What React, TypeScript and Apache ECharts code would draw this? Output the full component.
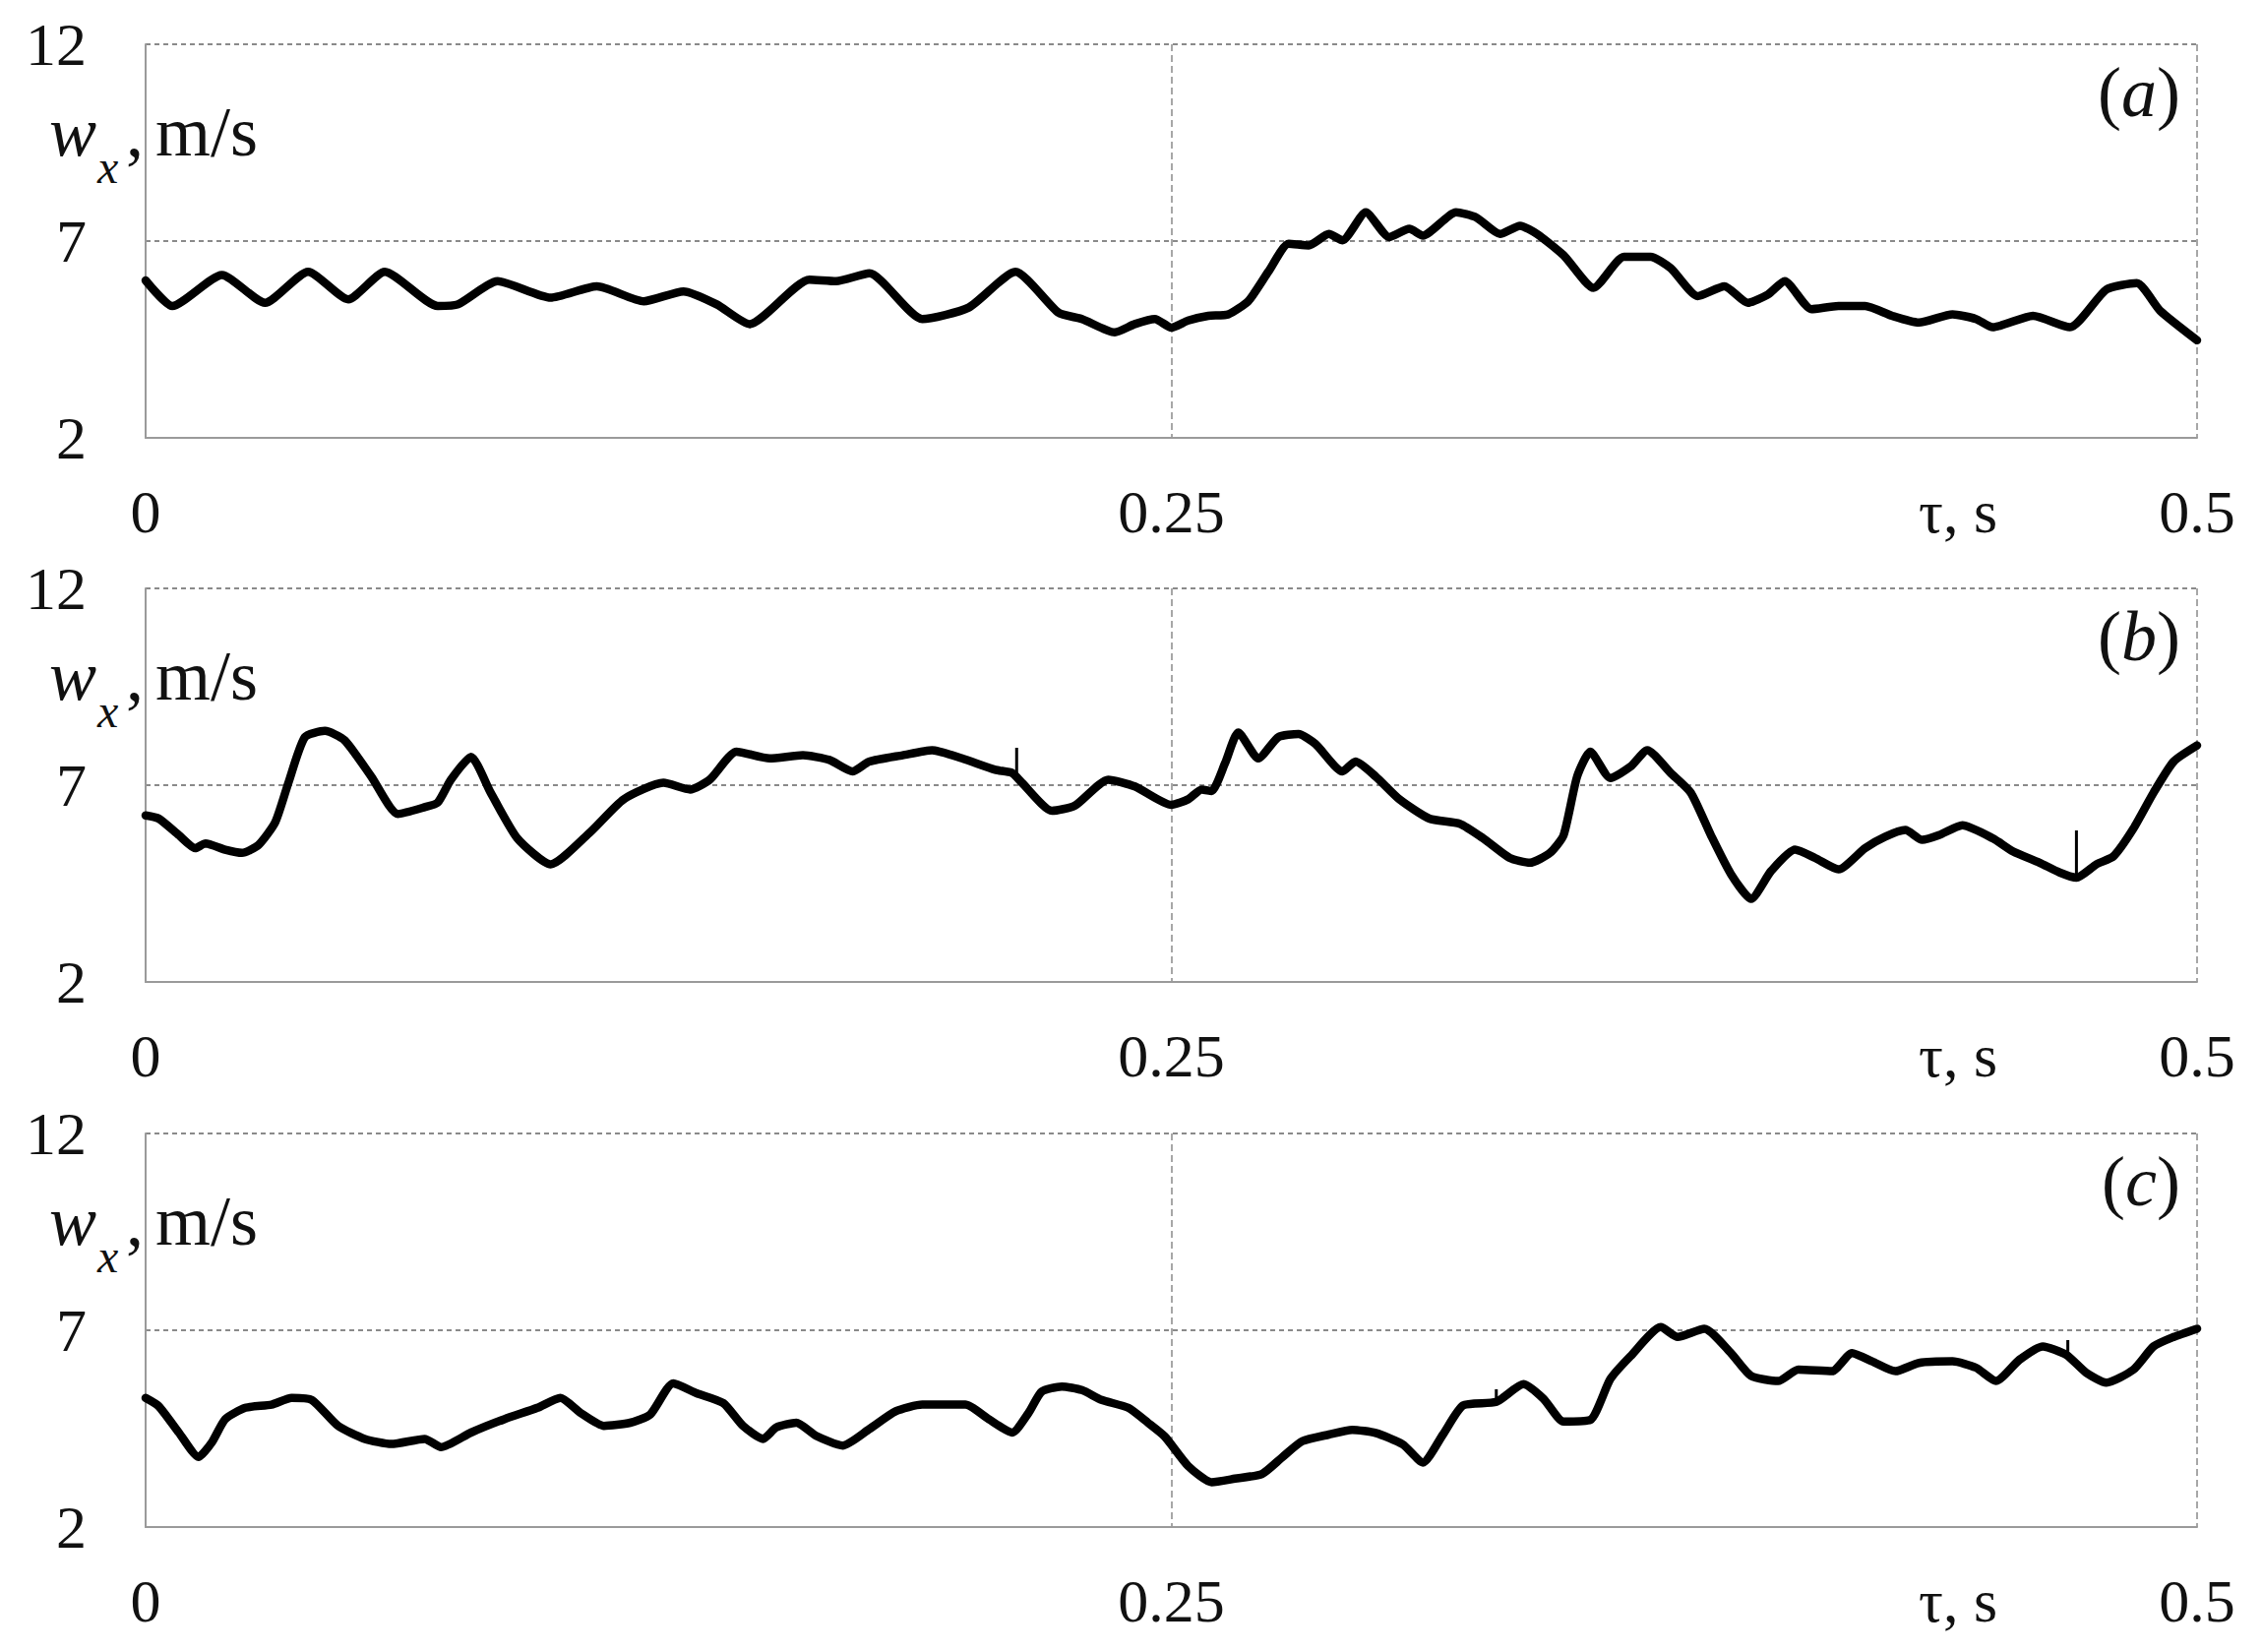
import React, { useEffect, useRef } from "react";
import * as echarts from "echarts";

// ---- data (time in s, velocity in m/s) ----
const T_A = [0, 0.0065, 0.0186, 0.0291, 0.0396, 0.0494, 0.0583, 0.0712, 0.0761, 0.0858, 0.0987, 0.11, 0.1214, 0.1311, 0.1392, 0.1472, 0.1618, 0.1683, 0.1764, 0.1893, 0.2006, 0.212, 0.2225, 0.2282, 0.2362, 0.2411, 0.246, 0.25, 0.2541, 0.259, 0.2639, 0.2688, 0.2737, 0.2786, 0.2835, 0.2884, 0.2917, 0.2974, 0.3031, 0.308, 0.3113, 0.3194, 0.3243, 0.3301, 0.335, 0.3391, 0.3456, 0.3529, 0.3603, 0.3668, 0.3717, 0.3783, 0.3848, 0.3905, 0.3954, 0.3995, 0.406, 0.4126, 0.4191, 0.4257, 0.4322, 0.4404, 0.4461, 0.4502, 0.46, 0.469, 0.4779, 0.4853, 0.491, 0.5];
const W_A = [6.0, 5.35, 6.14, 5.43, 6.22, 5.52, 6.22, 5.35, 5.39, 5.98, 5.56, 5.85, 5.47, 5.72, 5.39, 4.89, 6.02, 5.98, 6.18, 5.02, 5.31, 6.22, 5.18, 5.02, 4.68, 4.89, 5.02, 4.8, 4.98, 5.1, 5.14, 5.48, 6.23, 6.93, 6.89, 7.18, 7.02, 7.73, 7.1, 7.31, 7.14, 7.73, 7.6, 7.18, 7.39, 7.18, 6.64, 5.81, 6.6, 6.6, 6.31, 5.6, 5.85, 5.43, 5.64, 5.98, 5.27, 5.35, 5.35, 5.1, 4.93, 5.14, 5.02, 4.81, 5.1, 4.81, 5.77, 5.93, 5.23, 4.48];

const T_B = [0, 0.0032, 0.0081, 0.0121, 0.0146, 0.0194, 0.0235, 0.0275, 0.0316, 0.0348, 0.0388, 0.0437, 0.0485, 0.055, 0.0615, 0.068, 0.0712, 0.0744, 0.0793, 0.0841, 0.0906, 0.0987, 0.1084, 0.1165, 0.1262, 0.1327, 0.1375, 0.144, 0.1521, 0.1602, 0.1667, 0.1723, 0.1764, 0.1845, 0.1917, 0.199, 0.2071, 0.2112, 0.2136, 0.2209, 0.2265, 0.2346, 0.2411, 0.25, 0.2541, 0.2574, 0.2598, 0.2631, 0.2663, 0.2712, 0.2761, 0.281, 0.2851, 0.2917, 0.2949, 0.2998, 0.3056, 0.3129, 0.3203, 0.326, 0.3325, 0.3374, 0.3423, 0.3456, 0.3489, 0.3521, 0.357, 0.3619, 0.366, 0.3717, 0.3766, 0.3815, 0.3864, 0.3913, 0.3962, 0.402, 0.4069, 0.4126, 0.4191, 0.424, 0.4289, 0.433, 0.4371, 0.4428, 0.4502, 0.4551, 0.4616, 0.4665, 0.4706, 0.4755, 0.4796, 0.4845, 0.4894, 0.4943, 0.5];
const W_B = [6.23, 6.15, 5.73, 5.4, 5.52, 5.36, 5.28, 5.48, 6.06, 7.06, 8.22, 8.38, 8.14, 7.22, 6.27, 6.44, 6.56, 7.14, 7.72, 6.81, 5.65, 4.99, 5.81, 6.64, 7.06, 6.89, 7.14, 7.85, 7.68, 7.76, 7.64, 7.35, 7.6, 7.76, 7.89, 7.68, 7.39, 7.31, 7.06, 6.35, 6.48, 7.14, 6.97, 6.5, 6.64, 6.89, 6.85, 7.56, 8.34, 7.68, 8.22, 8.3, 8.05, 7.35, 7.6, 7.22, 6.64, 6.15, 6.02, 5.65, 5.15, 5.03, 5.28, 5.73, 7.22, 7.85, 7.18, 7.47, 7.89, 7.31, 6.81, 5.73, 4.74, 4.11, 4.82, 5.36, 5.15, 4.86, 5.4, 5.69, 5.86, 5.61, 5.73, 5.98, 5.65, 5.32, 5.03, 4.78, 4.65, 4.99, 5.19, 5.9, 6.81, 7.6, 8.01];

const T_C = [0, 0.0032, 0.0081, 0.0129, 0.0162, 0.0194, 0.0243, 0.0307, 0.0356, 0.0405, 0.0469, 0.0534, 0.0599, 0.068, 0.072, 0.0793, 0.0874, 0.0955, 0.1011, 0.106, 0.1117, 0.1181, 0.123, 0.1286, 0.1343, 0.1408, 0.1456, 0.1505, 0.1537, 0.1586, 0.1634, 0.1699, 0.1764, 0.1828, 0.1893, 0.1998, 0.2055, 0.2112, 0.2152, 0.2184, 0.2233, 0.2282, 0.233, 0.2395, 0.2443, 0.2484, 0.2541, 0.2598, 0.2655, 0.2721, 0.277, 0.2819, 0.2884, 0.2941, 0.2998, 0.3064, 0.3113, 0.3162, 0.3211, 0.3292, 0.3358, 0.3407, 0.3456, 0.3521, 0.357, 0.3619, 0.3693, 0.3734, 0.3799, 0.3864, 0.3913, 0.3979, 0.4028, 0.411, 0.4159, 0.4208, 0.4265, 0.4322, 0.4404, 0.4461, 0.451, 0.4567, 0.4624, 0.4681, 0.473, 0.4779, 0.4845, 0.4894, 0.4943, 0.5];
const W_C = [5.28, 5.07, 4.4, 3.78, 4.16, 4.74, 5.03, 5.11, 5.28, 5.23, 4.57, 4.24, 4.11, 4.24, 4.03, 4.4, 4.74, 5.03, 5.28, 4.9, 4.57, 4.65, 4.86, 5.65, 5.4, 5.15, 4.57, 4.24, 4.53, 4.65, 4.32, 4.07, 4.49, 4.94, 5.11, 5.11, 4.74, 4.4, 4.9, 5.44, 5.57, 5.48, 5.23, 5.03, 4.65, 4.3, 3.55, 3.14, 3.23, 3.35, 3.77, 4.18, 4.35, 4.47, 4.39, 4.1, 3.64, 4.35, 5.09, 5.18, 5.63, 5.26, 4.68, 4.72, 5.76, 6.34, 7.08, 6.83, 7.04, 6.42, 5.84, 5.71, 6.0, 5.96, 6.42, 6.21, 5.96, 6.17, 6.21, 6.05, 5.71, 6.25, 6.59, 6.38, 5.92, 5.67, 6.0, 6.59, 6.83, 7.04];

// spikes: [time, from, to]
const SPIKES_A: number[][] = [];
const SPIKES_B = [[0.2123, 7.3, 7.95], [0.4706, 4.65, 5.85]];
const SPIKES_C = [[0.4685, 6.4, 6.75], [0.3292, 5.2, 5.5]];

const PANEL_LABELS = ["a", "b", "c"];
const X_TICKS = [0, 0.25, 0.5];
const Y_TICKS = [2, 7, 12];

const FONT = "'Liberation Serif', 'Times New Roman', serif";

export default function App() {
  const ref = useRef<HTMLDivElement>(null);

  useEffect(() => {
    document.body.style.margin = "0";
    const chart = echarts.init(ref.current!, null, { renderer: "svg" });

    const tops = [45, 598, 1152];
    const gridLeft = 148;
    const gridW = 2085;
    const gridH = 400;
    const panels = [
      { t: T_A, w: W_A, s: SPIKES_A },
      { t: T_B, w: W_B, s: SPIKES_B },
      { t: T_C, w: W_C, s: SPIKES_C },
    ];

    const grid = tops.map((top) => ({ left: gridLeft, top, width: gridW, height: gridH }));
    const axisGrey = "#9a9a9a";
    const dashGrey = "#8a8a8a";

    const xAxis = tops.map((_, i) => ({
      gridIndex: i,
      type: "value",
      min: X_TICKS[0],
      max: X_TICKS[X_TICKS.length - 1],
      interval: X_TICKS[1] - X_TICKS[0],
      axisLine: { show: true, lineStyle: { color: axisGrey, width: 2 } },
      axisTick: { show: false },
      splitLine: { show: true, lineStyle: { color: dashGrey, width: 1.5, type: [7, 4] } },
      axisLabel: {
        fontFamily: FONT,
        fontSize: 62,
        color: "#111",
        margin: 44,
        showMinLabel: true,
        showMaxLabel: true,
        formatter: (v: number) => String(v),
      },
    }));

    const yAxis = tops.map((_, i) => ({
      gridIndex: i,
      type: "value",
      min: Y_TICKS[0],
      max: Y_TICKS[Y_TICKS.length - 1],
      interval: Y_TICKS[1] - Y_TICKS[0],
      axisLine: { show: true, lineStyle: { color: axisGrey, width: 2 } },
      axisTick: { show: false },
      splitLine: { show: true, lineStyle: { color: dashGrey, width: 2, type: [5, 4] } },
      axisLabel: {
        fontFamily: FONT,
        fontSize: 62,
        color: "#111",
        margin: 60,
        showMinLabel: true,
        showMaxLabel: true,
      },
    }));

    const series: any[] = [];
    panels.forEach((p, i) => {
      series.push({
        type: "line",
        xAxisIndex: i,
        yAxisIndex: i,
        data: p.t.map((t, k) => [t, p.w[k]]),
        symbol: "none",
        showSymbol: false,
        smooth: 0.2,
        lineStyle: { color: "#000", width: 8.5, join: "round", cap: "round" },
        z: 5,
      });
      p.s.forEach((sp) => {
        series.push({
          type: "line",
          xAxisIndex: i,
          yAxisIndex: i,
          data: [[sp[0], sp[1]], [sp[0], sp[2]]],
          symbol: "none",
          showSymbol: false,
          lineStyle: { color: "#000", width: 3 },
          z: 5,
        });
      });
    });

    const graphic: any[] = [];
    tops.forEach((top, i) => {
      // y-axis title: w_x, m/s
      graphic.push({
        type: "text",
        left: 50,
        top: top + 53,
        style: { text: "w", fontFamily: FONT, fontSize: 72, fontStyle: "italic", fill: "#111" },
      });
      graphic.push({
        type: "text",
        left: 99,
        top: top + 100,
        style: { text: "x", fontFamily: FONT, fontSize: 48, fontStyle: "italic", fill: "#111" },
      });
      graphic.push({
        type: "text",
        left: 128,
        top: top + 53,
        style: { text: ",", fontFamily: FONT, fontSize: 72, fill: "#111" },
      });
      graphic.push({
        type: "text",
        left: 158,
        top: top + 53,
        style: { text: "m/s", fontFamily: FONT, fontSize: 72, fill: "#111" },
      });
      // panel letter
      graphic.push({
        type: "text",
        right: 2299 - 2216,
        top: top + 13,
        style: {
          text: "({i|" + PANEL_LABELS[i] + "})",
          fontFamily: FONT,
          fontSize: 72,
          fill: "#111",
          rich: { i: { fontFamily: FONT, fontSize: 72, fontStyle: "italic", fill: "#111" } },
        },
      });
      // x-axis title
      graphic.push({
        type: "text",
        left: 1950,
        top: top + gridH + 44,
        style: { text: "τ, s", fontFamily: FONT, fontSize: 62, fill: "#111" },
      });
    });

    chart.setOption({
      animation: false,
      backgroundColor: "#fff",
      grid,
      xAxis,
      yAxis,
      series,
      graphic,
    });

    return () => chart.dispose();
  }, []);

  return <div ref={ref} style={{ width: 2299, height: 1679 }} />;
}
